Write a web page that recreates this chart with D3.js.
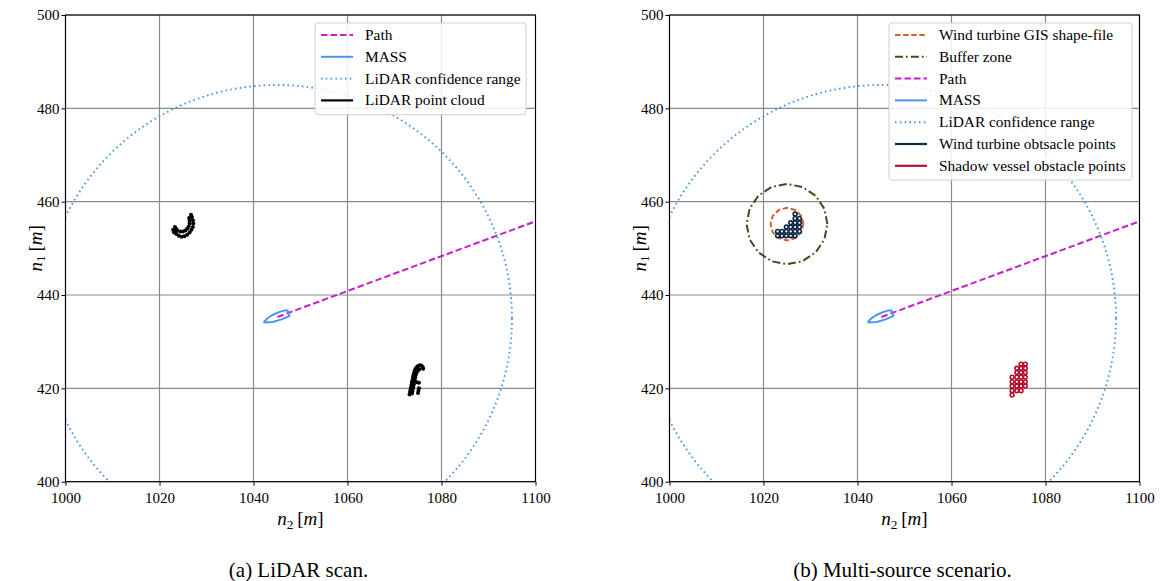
<!DOCTYPE html>
<html>
<head>
<meta charset="utf-8">
<script src="https://cdn.jsdelivr.net/npm/d3@7"></script>
<style>
  body { margin: 0; background: #fff; }
  svg text { font-family: "Liberation Serif", "Times New Roman", serif; fill: #000; }
</style>
</head>
<body>
<svg id="chart" width="1161" height="581"></svg>
<script>
// ---- data (units in metres) ----
const xTicks = [1000, 1020, 1040, 1060, 1080, 1100];
const yTicks = [400, 420, 440, 460, 480, 500];

const pathPts = [[1045.1, 435.3], [1100, 455.8]];
const massPose = [1044.8, 435.1, 20.5];            // n2, n1, heading (deg)
const hullShape = [[-2.85, 0], [-1.8, 0.55], [-0.5, 0.85], [1.0, 0.95], [2.3, 0.85], [2.85, 0.6],
                   [2.85, -0.6], [1.0, -0.72], [-1.0, -0.58], [-2.85, 0]];
const lidarRange = [1045, 435, 50];                  // centre n2, n1, radius

const lidarTurbine = [
  [1022.9, 454.0], [1023.3, 454.6], [1023.1, 453.4], [1023.6, 454.1],
  [1023.2, 453.6], [1023.6, 453.1], [1024.1, 452.7], [1024.7, 452.5], [1025.3, 452.6], [1025.9, 452.9],
  [1026.4, 453.4], [1026.8, 454.0], [1027.1, 454.6], [1027.2, 455.3], [1027.1, 456.0], [1026.9, 456.7], [1026.7, 457.2],
  [1023.3, 454.2], [1023.8, 453.8], [1024.4, 453.6], [1025.0, 453.6], [1025.5, 453.8], [1025.9, 454.2],
  [1026.2, 454.7], [1026.4, 455.3], [1026.4, 455.9], [1026.3, 456.5]
];
const lidarShadow = [
  [1073.2, 418.7], [1073.3, 419.2], [1073.4, 419.7], [1073.5, 420.2], [1073.6, 420.7], [1073.7, 421.2],
  [1073.8, 421.7], [1073.9, 422.2], [1074.0, 422.7], [1074.1, 423.2], [1074.25, 423.7], [1074.45, 424.15],
  [1074.7, 424.5], [1075.0, 424.8], [1075.35, 424.95], [1075.7, 424.9], [1076.0, 424.6], [1076.1, 424.2],
  [1073.7, 418.9], [1073.8, 419.4], [1073.9, 419.9], [1074.0, 420.4], [1074.1, 420.9], [1074.2, 421.4],
  [1074.3, 421.9], [1074.4, 422.4], [1074.55, 422.9], [1074.7, 423.4], [1074.95, 423.8], [1075.3, 424.1],
  [1074.8, 421.3], [1075.2, 421.2], [1075.0, 419.0], [1075.1, 419.5], [1075.2, 420.0]
];

const gisShape = [
  [1028.5, 455.2], [1028.03, 456.95], [1026.75, 458.23], [1025.0, 458.7], [1023.25, 458.23], [1021.97, 456.95],
  [1021.5, 455.2], [1021.97, 453.45], [1023.25, 452.17], [1025.0, 451.7], [1026.75, 452.17], [1028.03, 453.45],
  [1028.5, 455.2]
];
const bufferZone = [
  [1033.6, 455.2], [1032.95, 458.49], [1031.08, 461.28], [1028.29, 463.15], [1025.0, 463.8], [1021.71, 463.15],
  [1018.92, 461.28], [1017.05, 458.49], [1016.4, 455.2], [1017.05, 451.91], [1018.92, 449.12], [1021.71, 447.25],
  [1025.0, 446.6], [1028.29, 447.25], [1031.08, 449.12], [1032.95, 451.91], [1033.6, 455.2]
];

const turbinePts = [
  [1023.0, 452.7], [1023.93, 452.7], [1024.86, 452.7], [1025.79, 452.7], [1026.72, 452.7],
  [1023.0, 453.63], [1023.93, 453.63], [1024.86, 453.63], [1025.79, 453.63], [1026.72, 453.63], [1027.65, 453.63],
  [1024.86, 454.56], [1025.79, 454.56], [1026.72, 454.56], [1027.65, 454.56],
  [1025.79, 455.49], [1026.72, 455.49], [1027.65, 455.49],
  [1026.72, 456.42], [1027.65, 456.42],
  [1026.72, 457.35]
];
const shadowPts = [
  [1074.8, 425.2], [1075.7, 425.2],
  [1073.9, 424.3], [1074.8, 424.3], [1075.7, 424.3],
  [1073.9, 423.4], [1074.8, 423.4], [1075.7, 423.4],
  [1072.9, 422.4], [1073.9, 422.4], [1074.8, 422.4], [1075.7, 422.4],
  [1072.9, 421.4], [1073.9, 421.4], [1074.8, 421.4], [1075.7, 421.4],
  [1072.9, 420.5], [1073.9, 420.5], [1074.8, 420.5], [1075.7, 420.5],
  [1072.9, 419.5], [1073.9, 419.5], [1074.8, 419.5],
  [1072.9, 418.6]
];

const legendA = ['Path', 'MASS', 'LiDAR confidence range', 'LiDAR point cloud'];
const legendB = ['Wind turbine GIS shape-file', 'Buffer zone', 'Path', 'MASS', 'LiDAR confidence range',
                 'Wind turbine obtsacle points', 'Shadow vessel obstacle points'];

// ---- styles ----
const styles = {
  'Wind turbine GIS shape-file': { color: '#d0622c', dash: '5.5,2.6', width: 2 },
  'Buffer zone': { color: '#34521f', dash: '8,3,1.8,3', width: 2 },
  'Path': { color: '#c81ec8', dash: '6.5,3', width: 2 },
  'MASS': { color: '#4a97ec', dash: null, width: 2 },
  'LiDAR confidence range': { color: '#4a97ec', dash: '1.6,3.2', width: 1.9 },
  'LiDAR point cloud': { color: '#000', dash: null, width: 2.2 },
  'Wind turbine obtsacle points': { color: '#0f2746', dash: null, width: 2.2 },
  'Shadow vessel obstacle points': { color: '#b3102c', dash: null, width: 2.2 }
};

const plotW = 470, plotH = 466.7, plotTop = 15;
const svg = d3.select('#chart');
const defs = svg.append('defs');

const panels = [
  { id: 'a', x0: 65.5, caption: '(a) LiDAR scan.', legend: legendA, lx: 315, lw: 211,
    layers: ['path', 'mass', 'range', 'cloud'] },
  { id: 'b', x0: 669.5, caption: '(b) Multi-source scenario.', legend: legendB, lx: 889, lw: 243,
    layers: ['gis', 'buffer', 'path', 'mass', 'range', 'turbine', 'shadow'] }
];

function applyStyle(sel, name) {
  const s = styles[name];
  sel.attr('fill', 'none').attr('stroke', s.color).attr('stroke-width', s.width);
  if (s.dash) sel.attr('stroke-dasharray', s.dash);
  return sel;
}

function mathLabel(g, sub, size) {
  g.append('tspan').attr('font-style', 'italic').text('n');
  g.append('tspan').attr('font-size', size * 0.7).attr('dy', size * 0.2).text(sub);
  g.append('tspan').attr('dy', -size * 0.2).text('\u2009[');
  g.append('tspan').attr('font-style', 'italic').text('m');
  g.append('tspan').text(']');
}

function drawPanel(p) {
  const x = d3.scaleLinear().domain([1000, 1100]).range([p.x0, p.x0 + plotW]);
  const y = d3.scaleLinear().domain([400, 500]).range([plotTop + plotH, plotTop]);
  const line = d3.line().x(d => x(d[0])).y(d => y(d[1]));
  const g = svg.append('g');

  defs.append('clipPath').attr('id', 'clip-' + p.id)
    .append('rect').attr('x', p.x0).attr('y', plotTop).attr('width', plotW).attr('height', plotH);

  // grid
  const grid = g.append('g').attr('stroke', '#8a8a8a').attr('stroke-width', 1.2);
  grid.selectAll('.gx').data(xTicks).join('line')
    .attr('x1', d => x(d)).attr('x2', d => x(d)).attr('y1', plotTop).attr('y2', plotTop + plotH);
  grid.selectAll('.gy').data(yTicks).join('line')
    .attr('y1', d => y(d)).attr('y2', d => y(d)).attr('x1', p.x0).attr('x2', p.x0 + plotW);

  const c = g.append('g').attr('clip-path', `url(#clip-${p.id})`);

  p.layers.forEach(layer => {
    if (layer === 'gis') applyStyle(c.append('path').attr('d', line(gisShape)), 'Wind turbine GIS shape-file');
    if (layer === 'buffer') applyStyle(c.append('path').attr('d', line(bufferZone)), 'Buffer zone');
    if (layer === 'path') applyStyle(c.append('path').attr('d', line(pathPts)), 'Path');
    if (layer === 'mass') {
      const a = massPose[2] * Math.PI / 180;
      const hull = hullShape.map(([u, v]) => [
        massPose[0] + u * Math.cos(a) - v * Math.sin(a),
        massPose[1] + u * Math.sin(a) + v * Math.cos(a)
      ]);
      applyStyle(c.append('path').attr('d', line(hull)), 'MASS').attr('stroke-linejoin', 'round');
    }
    if (layer === 'range') {
      applyStyle(c.append('ellipse'), 'LiDAR confidence range')
        .attr('cx', x(lidarRange[0])).attr('cy', y(lidarRange[1]))
        .attr('rx', x(lidarRange[0] + lidarRange[2]) - x(lidarRange[0]))
        .attr('ry', y(lidarRange[1]) - y(lidarRange[1] + lidarRange[2]));
    }
    if (layer === 'cloud') {
      c.append('g').selectAll('circle').data(lidarTurbine.concat(lidarShadow)).join('circle')
        .attr('cx', d => x(d[0])).attr('cy', d => y(d[1])).attr('r', 2.0).attr('fill', '#000');
    }
    if (layer === 'turbine' || layer === 'shadow') {
      const name = layer === 'turbine' ? 'Wind turbine obtsacle points' : 'Shadow vessel obstacle points';
      c.append('g').selectAll('circle').data(layer === 'turbine' ? turbinePts : shadowPts).join('circle')
        .attr('cx', d => x(d[0])).attr('cy', d => y(d[1])).attr('r', 1.9)
        .attr('fill', '#fff').attr('stroke', styles[name].color).attr('stroke-width', 1.6);
    }
  });

  // frame
  g.append('rect').attr('x', p.x0).attr('y', plotTop).attr('width', plotW).attr('height', plotH)
    .attr('fill', 'none').attr('stroke', '#000').attr('stroke-width', 1.1);

  // axes
  const ax = g.append('g').attr('transform', `translate(0,${plotTop + plotH})`)
    .call(d3.axisBottom(x).tickValues(xTicks).tickSize(4).tickSizeOuter(0).tickFormat(d3.format('d')));
  const ay = g.append('g').attr('transform', `translate(${p.x0},0)`)
    .call(d3.axisLeft(y).tickValues(yTicks).tickSize(4).tickSizeOuter(0).tickFormat(d3.format('d')));
  [ax, ay].forEach(a => {
    a.select('.domain').remove();
    a.selectAll('line').attr('stroke', '#000').attr('stroke-width', 1);
    a.selectAll('text').attr('font-family', '"Liberation Serif", serif').attr('font-size', 15).attr('fill', '#000');
  });
  ax.selectAll('text').attr('dy', '0.95em');
  ay.selectAll('text').attr('x', -6);

  // axis labels
  mathLabel(g.append('text').attr('x', p.x0 + plotW / 2).attr('y', 525)
    .attr('text-anchor', 'middle').attr('font-size', 19), '2', 19);
  mathLabel(g.append('text').attr('transform', `translate(${p.x0 - 24},${plotTop + plotH / 2}) rotate(-90)`)
    .attr('text-anchor', 'middle').attr('font-size', 19), '1', 19);

  // caption
  g.append('text').attr('x', p.x0 + plotW / 2 - 2).attr('y', 577)
    .attr('text-anchor', 'middle').attr('font-size', 21).text(p.caption);

  // legend
  const rowH = 21.8, ly = 23;
  const lg = g.append('g');
  lg.append('rect').attr('x', p.lx).attr('y', ly).attr('width', p.lw).attr('height', p.legend.length * rowH + 4.5)
    .attr('rx', 3).attr('fill', '#fff').attr('fill-opacity', 0.85).attr('stroke', '#cfcfcf');
  p.legend.forEach((name, i) => {
    const yy = ly + 12 + i * rowH;
    applyStyle(lg.append('line'), name).attr('x1', p.lx + 6).attr('x2', p.lx + 38).attr('y1', yy).attr('y2', yy);
    lg.append('text').attr('x', p.lx + 50).attr('y', yy + 5).attr('font-size', 15.4).text(name);
  });
}

panels.forEach(drawPanel);
</script>
</body>
</html>
